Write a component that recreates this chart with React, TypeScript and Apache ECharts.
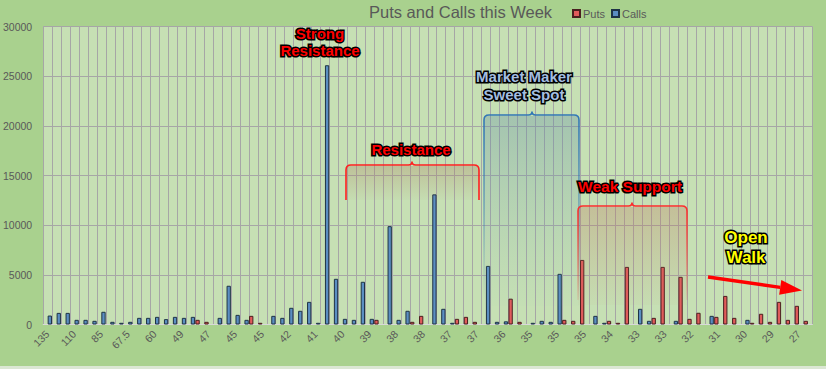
import React, { useEffect, useRef } from "react";
import * as echarts from "echarts";

const categories: string[] = [
  "135", "125", "120", "110", "100", "90", "85", "80", "70", "67.5",
  "65", "62.5", "60", "55", "50", "49", "48", "47.5", "47", "46",
  "45.5", "45", "45", "45", "45", "44", "43", "42", "42", "41.5",
  "41", "41", "40.5", "40", "40", "39.5", "39", "39", "38.5", "38",
  "38", "38", "38", "37.5", "37.5", "37", "37", "37", "37", "36.5",
  "36.5", "36", "36", "35.5", "35", "35", "35", "35", "35", "35",
  "35", "34.5", "34.5", "34", "34", "33.5", "33", "33", "33", "33",
  "32.5", "32.5", "32", "32", "31.5", "31", "31", "30.5", "30", "30",
  "29.5", "29", "28.5", "28", "27", "26.5",
];

const putsValues: number[] = [
  0, 0, 0, 0, 0, 0, 0, 0, 0, 0,
  0, 0, 0, 0, 0, 0, 0, 470, 270, 0,
  0, 0, 0, 870, 170, 0, 0, 0, 0, 0,
  0, 0, 0, 0, 0, 0, 0, 470, 0, 0,
  0, 270, 870, 0, 0, 0, 570, 770, 270, 0,
  0, 0, 2600, 270, 0, 0, 0, 0, 470, 370,
  6500, 0, 0, 370, 170, 5800, 0, 0, 670, 5800,
  0, 4800, 570, 1180, 0, 770, 2880, 670, 0, 170,
  1080, 270, 2280, 470, 1880, 370,
];

const callsValues: number[] = [
  900, 1170, 1170, 470, 470, 370, 1280, 270, 170, 270,
  670, 670, 770, 540, 770, 670, 770, 0, 0, 670,
  3900, 970, 470, 0, 0, 870, 670, 1680, 1380, 2280,
  170, 26100, 4600, 570, 470, 4300, 570, 0, 9900, 470,
  1380, 0, 0, 13100, 1580, 170, 0, 0, 0, 5900,
  270, 320, 0, 0, 170, 370, 270, 5100, 0, 0,
  0, 870, 170, 0, 0, 0, 1580, 370, 0, 0,
  370, 0, 0, 0, 870, 0, 0, 0, 470, 0,
  0, 0, 0, 0, 0, 0,
];

const seriesNames = ["Puts", "Calls"];
const yMin = 0;
const yMax = 30000;
const yInterval = 5000;

function bracePath(x1: number, x2: number, yTop: number, yBot: number, cx: number): string {
  const r = 5;
  const n = 3.5;
  return [
    `M ${x1} ${yBot}`,
    `L ${x1} ${yTop + r}`,
    `Q ${x1} ${yTop} ${x1 + r} ${yTop}`,
    `L ${cx - n} ${yTop}`,
    `Q ${cx} ${yTop} ${cx} ${yTop - n}`,
    `Q ${cx} ${yTop} ${cx + n} ${yTop}`,
    `L ${x2 - r} ${yTop}`,
    `Q ${x2} ${yTop} ${x2} ${yTop + r}`,
    `L ${x2} ${yBot}`,
  ].join(" ");
}

echarts.graphic.registerShape("braceRes", echarts.graphic.extendPath(bracePath(346, 479, 165, 200, 412), {}));
echarts.graphic.registerShape("braceMM", echarts.graphic.extendPath(bracePath(484, 579, 115, 300, 532), {}));
echarts.graphic.registerShape("braceWS", echarts.graphic.extendPath(bracePath(578, 687, 206, 300, 632), {}));

const vGrad = (c0: string, c1: string) => ({
  type: "linear", x: 0, y: 0, x2: 0, y2: 1,
  colorStops: [{ offset: 0, color: c0 }, { offset: 1, color: c1 }],
});

const FONT = "'Liberation Sans', Arial, sans-serif";

const labelStyle = (text: string, x: number, y: number, fill: string, size: number, lh: number) => ({
  type: "text",
  x, y, z: 20,
  style: {
    text,
    x: 0, y: 0,
    fill,
    stroke: "#000",
    lineWidth: 3,
    fontFamily: FONT,
    fontWeight: "bold",
    fontSize: size,
    lineHeight: lh,
    align: "center",
    verticalAlign: "middle",
    shadowColor: "rgba(0,0,0,0.55)",
    shadowBlur: 4,
  },
});

export default function App() {
  const ref = useRef<HTMLDivElement>(null);
  useEffect(() => {
    if (!ref.current) return;
    const chart = echarts.init(ref.current, null, { renderer: "svg" });
    const toData = (arr: number[]) => arr.map((v) => (v === 0 ? "-" : v));
    const ax = 708, ay = 277, tx = 802, ty = 290.5;
    const dx = tx - ax, dy = ty - ay;
    const len = Math.sqrt(dx * dx + dy * dy);
    const ux = dx / len, uy = dy / len;
    const hl = 22, hw = 7.5;
    const bx = tx - ux * hl, by = ty - uy * hl;
    chart.setOption({
      animation: false,
      backgroundColor: "#a9d18e",
      title: {
        text: "Puts and Calls this Week",
        left: 369,
        top: 3,
        padding: 0,
        textStyle: { fontSize: 16.5, fontWeight: "normal", color: "#595959", fontFamily: FONT },
      },
      legend: {
        data: seriesNames,
        left: 572,
        top: 8,
        padding: 0,
        itemWidth: 7,
        itemHeight: 7,
        itemGap: 6,
        icon: "rect",
        textStyle: { fontSize: 11, color: "#595959", fontFamily: FONT, padding: [0, 0, 0, -2] },
      },
      grid: {
        left: 42,
        right: 13.6,
        top: 26.5,
        bottom: 44.5,
        show: true,
        backgroundColor: "#c6e0b4",
        borderWidth: 0,
      },
      xAxis: {
        type: "category",
        data: categories,
        boundaryGap: true,
        axisTick: { show: false },
        axisLine: { show: true, lineStyle: { color: "#d9d9d9", width: 1 } },
        axisLabel: {
          interval: 2,
          rotate: 45,
          fontSize: 10.5,
          color: "#595959",
          margin: 8,
          fontFamily: FONT,
        },
        splitLine: { show: true, interval: 0, lineStyle: { color: "#a6a6a6", width: 1 } },
      },
      yAxis: {
        type: "value",
        min: yMin,
        max: yMax,
        interval: yInterval,
        axisLine: { show: false },
        axisTick: { show: false },
        axisLabel: {
          fontSize: 10.5, color: "#595959", margin: 11, fontFamily: FONT,
          formatter: (v: number) => String(v),
        },
        splitLine: { show: true, lineStyle: { color: "#a6a6a6", width: 1 } },
      },
      series: [
        {
          name: seriesNames[0],
          type: "bar",
          data: toData(putsValues),
          barGap: "0%",
          barCategoryGap: "4%",
          itemStyle: { color: "#e05b5b", borderColor: "#4a1f1f", borderWidth: 1 },
        },
        {
          name: seriesNames[1],
          type: "bar",
          data: toData(callsValues),
          barGap: "0%",
          barCategoryGap: "4%",
          itemStyle: { color: "#5b8ec2", borderColor: "#1e3346", borderWidth: 1 },
        },
      ],
      graphic: [
        { type: "rect", z: 10, shape: { x: 346, y: 166, width: 133, height: 34 }, style: { fill: vGrad("rgba(170,120,90,0.3)", "rgba(170,120,90,0.03)") } },
        { type: "braceRes", z: 11, style: { fill: null, stroke: "#ff2020", lineWidth: 1.6 } },
        { type: "rect", z: 10, shape: { x: 484, y: 116, width: 95, height: 190 }, style: { fill: vGrad("rgba(90,135,165,0.32)", "rgba(120,170,180,0.02)") } },
        { type: "braceMM", z: 11, style: { fill: null, stroke: vGrad("rgba(46,117,182,1)", "rgba(46,117,182,0)"), lineWidth: 1.6 } },
        { type: "rect", z: 10, shape: { x: 578, y: 207, width: 109, height: 98 }, style: { fill: vGrad("rgba(190,115,90,0.3)", "rgba(190,115,90,0.03)") } },
        { type: "braceWS", z: 11, style: { fill: null, stroke: vGrad("rgba(255,40,40,1)", "rgba(255,40,40,0.1)"), lineWidth: 1.6 } },
        { type: "line", z: 12, shape: { x1: ax, y1: ay, x2: bx, y2: by }, style: { stroke: "#ff0000", lineWidth: 3.5 } },
        {
          type: "polygon", z: 12,
          shape: { points: [[tx, ty], [bx - uy * hw, by + ux * hw], [bx + uy * hw, by - ux * hw]] },
          style: { fill: "#ff0000" },
        },
        labelStyle("Strong\nResistance", 320, 42, "#ff0000", 15, 17),
        labelStyle("Resistance", 411, 149, "#ff0000", 15, 18),
        labelStyle("Market Maker\nSweet Spot", 524, 85, "#a3bde0", 15, 18),
        labelStyle("Weak Support", 630, 186, "#ff0000", 15.5, 18),
        labelStyle("Open\nWalk", 746, 247, "#ffff00", 17, 20),
        { type: "rect", z: 1, shape: { x: 0, y: 366, width: 826, height: 3 }, style: { fill: "#dbe7d3" } },
      ],
    });
    return () => chart.dispose();
  }, []);
  return <div ref={ref} style={{ position: "fixed", left: 0, top: 0, width: 826, height: 369 }} />;
}
